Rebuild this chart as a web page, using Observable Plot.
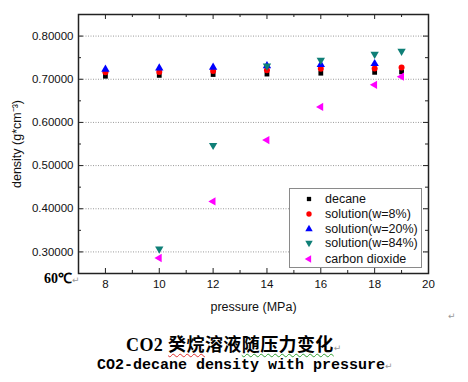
<!DOCTYPE html>
<html><head><meta charset="utf-8">
<script src="https://cdn.jsdelivr.net/npm/d3@7"></script>
<script src="https://cdn.jsdelivr.net/npm/@observablehq/plot@0.6"></script>
<style>
body{margin:0;background:#fff;}
#wrap{position:relative;width:468px;height:382px;overflow:hidden;background:#fff;font-family:"Liberation Sans",Arial,sans-serif;}
.abs{position:absolute;white-space:nowrap;}
.pm{color:#999;font-family:"DejaVu Sans",sans-serif;font-size:9px;font-weight:normal;}
#legend{position:absolute;left:289px;top:188px;width:131px;height:78px;border:1px solid #8a8a8a;background:#fff;}
#legend .row{position:absolute;left:0;height:14px;font-size:12.5px;color:#111;white-space:nowrap;}
#legend svg{position:absolute;left:12px;top:0;}
#legend span{position:absolute;left:35px;top:0;line-height:14px;}
</style></head><body>
<div id="wrap"></div>
<script>
// ---- data ----
const pressure = [8, 10, 12, 14, 16, 18, 19];
const decane   = [0.707, 0.709, 0.711, 0.712, 0.714, 0.716, 0.717];
const sol8     = [0.716, 0.717, 0.719, 0.721, 0.7245, 0.725, 0.7275];
const sol20    = [0.723, 0.726, 0.7275, 0.731, 0.734, 0.736, null];
const sol84    = [null, 0.307, 0.547, 0.731, 0.744, 0.758, 0.765];
const co2      = [null, 0.286, 0.417, 0.559, 0.636, 0.687, 0.706];
const seriesNames = ["decane", "solution(w=8%)", "solution(w=20%)", "solution(w=84%)", "carbon dioxide"];
const seriesValues = [decane, sol8, sol20, sol84, co2];
const seriesColors = ["#000000", "#ff0000", "#0000ff", "#0f7f77", "#ff00ff"];
const xMajor = [8, 10, 12, 14, 16, 18, 20];
const xMinor = [7, 9, 11, 13, 15, 17, 19];
const yMajor = [0.3, 0.4, 0.5, 0.6, 0.7, 0.8];
const yMinor = [0.25, 0.35, 0.45, 0.55, 0.65, 0.75, 0.85];

// custom symbols
const triDown = {draw(ctx, size){ const y = -Math.sqrt(size / (Math.sqrt(3) * 3)); ctx.moveTo(0, -y*2); ctx.lineTo(Math.sqrt(3)*y, y); ctx.lineTo(-Math.sqrt(3)*y, y); ctx.closePath(); }};
const triLeft = {draw(ctx, size){ const y = -Math.sqrt(size / (Math.sqrt(3) * 3)); ctx.moveTo(y*2, 0); ctx.lineTo(-y, Math.sqrt(3)*y); ctx.lineTo(-y, -Math.sqrt(3)*y); ctx.closePath(); }};
const symbols = [d3.symbolSquare, d3.symbolCircle, d3.symbolTriangle, triDown, triLeft];
const radii = [2.7, 3, 3.1, 3.1, 3.1];

const rows = seriesNames.map((name, i) =>
  pressure.map((p, j) => ({series: name, p, v: seriesValues[i][j]})).filter(d => d.v != null));

const W = 468, H = 320, mL = 78, mR = 40, mT = 14, mB = 47;
const innerH = H - mT - mB;
const innerW = W - mL - mR;

const chart = Plot.plot({
  width: W, height: H,
  marginLeft: mL, marginRight: mR, marginTop: mT, marginBottom: mB,
  style: {fontFamily: '"Liberation Sans", Arial, sans-serif', fontSize: "11.5px", color: "#111", background: "transparent"},
  x: {domain: [7, 20]},
  y: {domain: [0.25, 0.85]},
  marks: [
    Plot.gridY(yMajor, {stroke: "#9a9a9a", strokeOpacity: 1, strokeDasharray: "1,1.5", strokeWidth: 1}),
    Plot.tickX(xMajor, {x: d => d, insetTop: innerH - 5, stroke: "#222"}),
    Plot.tickX(xMajor, {x: d => d, insetBottom: innerH - 5, stroke: "#222"}),
    Plot.tickX(xMinor, {x: d => d, insetTop: innerH - 3, stroke: "#222"}),
    Plot.tickX(xMinor, {x: d => d, insetBottom: innerH - 3, stroke: "#222"}),
    Plot.tickY(yMajor, {y: d => d, insetRight: innerW - 5, stroke: "#222"}),
    Plot.tickY(yMajor, {y: d => d, insetLeft: innerW - 5, stroke: "#222"}),
    Plot.tickY(yMinor, {y: d => d, insetRight: innerW - 3, stroke: "#222"}),
    Plot.tickY(yMinor, {y: d => d, insetLeft: innerW - 3, stroke: "#222"}),
    Plot.axisX(xMajor, {tickSize: 0, tickPadding: 6, tickFormat: d => String(d), label: null}),
    Plot.axisY(yMajor, {tickSize: 0, tickPadding: 5, tickFormat: d => d.toFixed(5), label: null}),
    Plot.axisX([], {tickSize: 0, label: "pressure (MPa)", labelAnchor: "center", labelOffset: 37, labelArrow: "none", fontSize: 12.5}),
    Plot.axisY([], {tickSize: 0, label: "density (g*cm⁻³)", labelAnchor: "center", labelOffset: 66, labelArrow: "none", fontSize: 12.5}),
    ...rows.map((data, i) => Plot.dot(data, {x: "p", y: "v", symbol: symbols[i], r: radii[i], fill: seriesColors[i], stroke: "none"})),
    Plot.frame({stroke: "#222", strokeWidth: 1.5})
  ]
});

const wrap = document.getElementById("wrap");
chart.style.position = "absolute";
chart.style.left = "0px";
chart.style.top = "0px";
wrap.appendChild(chart);

// legend
const legend = document.createElement("div");
legend.id = "legend";
const rowTops = [3, 18, 33, 47, 63];
seriesNames.forEach((name, i) => {
  const row = document.createElement("div");
  row.className = "row";
  row.style.top = rowTops[i] + "px";
  const path = d3.symbol(symbols[i], Math.PI * radii[i] * radii[i] * 0.8)();
  row.innerHTML = `<svg width="14" height="14" viewBox="-7 -7 14 14"><path d="${path}" fill="${seriesColors[i]}"/></svg><span>${name}</span>`;
  legend.appendChild(row);
});
wrap.appendChild(legend);

function addText(html, left, top, style) {
  const el = document.createElement("div");
  el.className = "abs";
  el.style.left = left + "px";
  el.style.top = top + "px";
  el.style.cssText += style;
  el.innerHTML = html;
  wrap.appendChild(el);
}
addText('60℃<span class="pm">↵</span>', 44, 268, 'font-family:"Liberation Serif",serif;font-weight:bold;font-size:14px;color:#000;');
addText('<span class="pm">↵</span>', 448, 305, '');
addText('<span style="font-family:\'Liberation Serif\',serif">CO2 </span><span style="text-decoration:underline wavy #e03030;text-decoration-thickness:1px;text-underline-offset:2px">癸烷</span>溶液<span style="text-decoration:underline wavy #30a030;text-decoration-thickness:1px;text-underline-offset:2px">随压力变化</span><span class="pm">↵</span>',
  126, 332, 'font-family:"Noto Sans CJK SC",sans-serif;font-weight:bold;font-size:18px;letter-spacing:0.4px;color:#000;line-height:22px;');
addText('CO2-decane density with pressure<span class="pm">↵</span>', 97, 357, 'font-family:"Liberation Mono",monospace;font-weight:bold;font-size:15px;color:#000;line-height:18px;');
</script>
</body></html>
